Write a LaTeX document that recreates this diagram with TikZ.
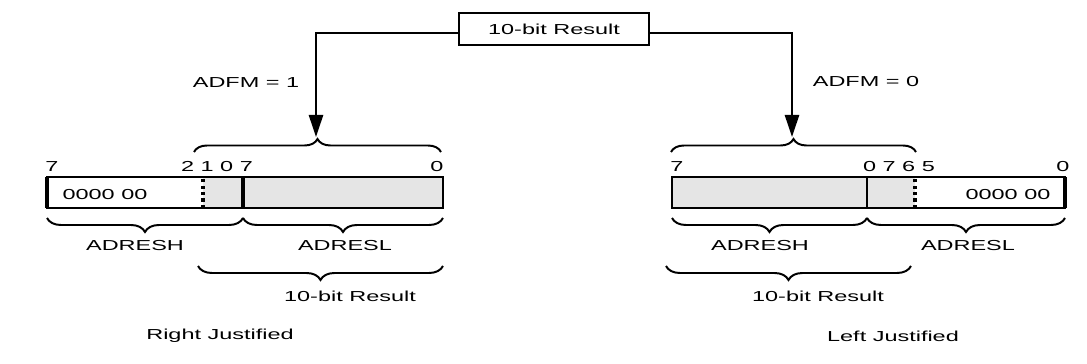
\documentclass[tikz,border=0pt]{standalone}
\usepackage{fontspec}
\setmainfont{Liberation Sans}
\usepackage{graphicx}
\usetikzlibrary{decorations.pathreplacing,arrows.meta,positioning}

\newcommand{\wtxt}[1]{\scalebox{1.62}[1]{#1}}

\tikzset{
  lbl/.style={font=\fontsize{10.3}{12}\selectfont, inner sep=0pt},
  regline/.style={line width=0.9pt},
  thickedge/.style={line width=2.5pt},
  dotline/.style={line width=2.4pt, dash pattern=on 0.8mm off 0.8mm},
  upbrace/.style={decorate, decoration={brace, amplitude=3.25mm}, line width=1.4pt},
  downbrace/.style={decorate, decoration={brace, mirror, amplitude=3.5mm}, line width=1.4pt},
  flow/.style={line width=1.8pt, -{Triangle[width=3.5mm,length=5.5mm]}},
}

\begin{document}
\begin{tikzpicture}[x=0.25mm,y=0.25mm]
\useasboundingbox (0,0) rectangle (1087,363);

\node[lbl, draw=black, line width=1.8pt, minimum width=47.5mm, minimum height=8mm] (res) at (554,334) {\wtxt{10-bit Result}};
\coordinate (tipL) at (316,226);
\coordinate (tipR) at (792,226);
\draw[flow] ([yshift=-1mm]res.west) -| (tipL);
\draw[flow] ([yshift=-1mm]res.east) -| (tipR);
\node[lbl] (adfmL) at (246,280) {\wtxt{ADFM = 1}};
\node[lbl] (adfmR) at (866,281) {\wtxt{ADFM = 0}};

% right justified
\fill[gray!20] (203,155) rectangle (443,186);
\draw[regline] (47,155) rectangle (443,186);
\draw[thickedge] (47,155) -- (47,186);
\draw[thickedge] (243,155) -- (243,186);
\draw[dotline] (203,155) -- (203,186);
\node[lbl] (zeroL) at (105,168) {\wtxt{0000 00}};
\node[lbl] (b7L) at (52,196) {\wtxt{7}};
\node[lbl] (bmidL) at (217,196) {\wtxt{2 1 0 7}};
\node[lbl] (b0L) at (437,196) {\wtxt{0}};
\draw[upbrace] (194,211) -- (441,211);
\draw[downbrace] (47,145) -- (243,145);
\draw[downbrace] (243,145) -- (443,145);
\draw[downbrace] (198,97) -- (443,97);
\node[lbl] (hL) at (135,117) {\wtxt{ADRESH}};
\node[lbl] (lL) at (345,117) {\wtxt{ADRESL}};
\node[lbl] (resL) at (350,67) {\wtxt{10-bit Result}};
\node[lbl] (justL) at (220,27) {\wtxt{Right Justified}};

% left justified
\fill[gray!20] (672,155) rectangle (915,186);
\draw[regline] (672,155) rectangle (1065,186);
\draw[regline] (867,155) -- (867,186);
\draw[thickedge] (1065,155) -- (1065,186);
\draw[dotline] (915,155) -- (915,186);
\node[lbl] (zeroR) at (1008,168) {\wtxt{0000 00}};
\node[lbl] (b7R) at (677,196) {\wtxt{7}};
\node[lbl] (bmidR) at (899,196) {\wtxt{0 7 6 5}};
\node[lbl] (b0R) at (1063,196) {\wtxt{0}};
\draw[upbrace] (671,211) -- (916,211);
\draw[downbrace] (672,145) -- (867,145);
\draw[downbrace] (867,145) -- (1065,145);
\draw[downbrace] (666,97) -- (911,97);
\node[lbl] (hR) at (760,117) {\wtxt{ADRESH}};
\node[lbl] (lR) at (968,117) {\wtxt{ADRESL}};
\node[lbl] (resR) at (818,67) {\wtxt{10-bit Result}};
\node[lbl] (justR) at (893,27) {\wtxt{Left Justified}};
\end{tikzpicture}
\end{document}
